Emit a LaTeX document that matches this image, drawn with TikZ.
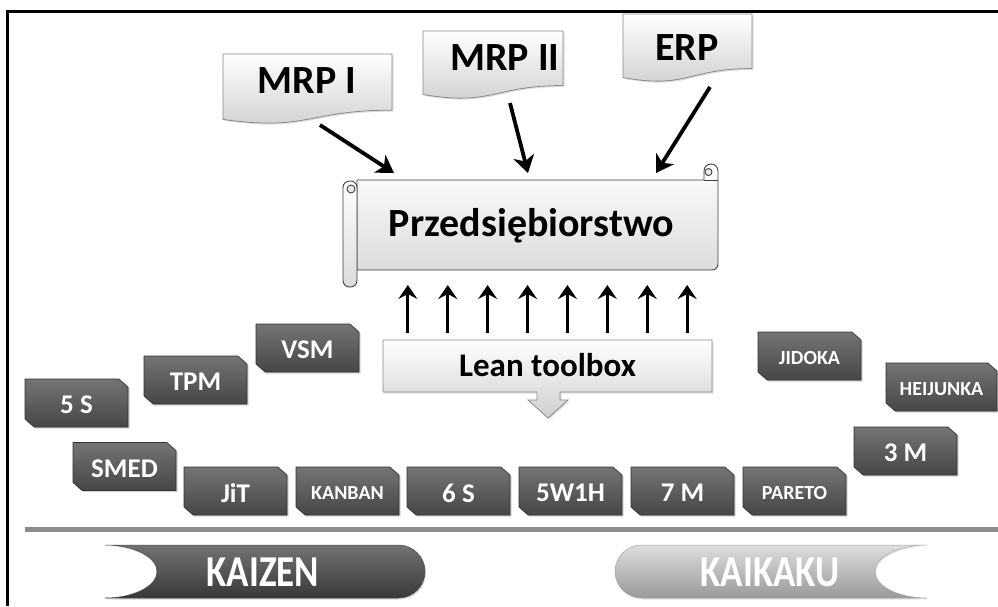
\documentclass[tikz,border=0pt]{standalone}
\usepackage{fontspec}
\usepackage{graphicx}
\setmainfont{Carlito}
\usetikzlibrary{shadows,calc,arrows.meta}
\definecolor{tooltop}{HTML}{747474}
\definecolor{toolbot}{HTML}{464646}
\definecolor{docbot}{HTML}{CFCFCF}
\definecolor{docline}{HTML}{8A8A8A}
\newcommand{\mydoc}[4]{\path[docshape] (#1,#3) -- (#2,#3) -- (#2,{#3+0.802*#4}) .. controls ({(#1+#2)/2},{#3+0.802*#4}) and ({(#1+#2)/2},{#3+1.107*#4}) .. (#1,{#3+0.934*#4}) -- cycle;}
% name, cx, cy, width, node style, text
\newcommand{\toolbox}[6]{%
  \path[toolfill] ({#2-#4/2},{#3-24}) -- ({#2+#4/2-9},{#3-24}) -- ({#2+#4/2},{#3-16}) -- ({#2+#4/2},{#3+24}) -- ({#2-#4/2+9},{#3+24}) -- ({#2-#4/2},{#3+16}) -- cycle;
  \node[#5] (#1) at (#2,{#3+2}) {#6};}
\begin{document}
\begin{tikzpicture}[x=1pt,y=-1pt,
  toolfill/.style={top color=tooltop, bottom color=toolbot, draw=toolbot!70!black, line width=0.6pt,
    drop shadow={shadow xshift=1.5pt, shadow yshift=-1.5pt, opacity=0.35}},
  tool/.style={inner sep=0pt, text=white, font=\bfseries\fontsize{27}{29}\selectfont},
  smalltool/.style={tool, font=\bfseries\fontsize{20}{22}\selectfont},
  docshape/.style={top color=white, bottom color=docbot, draw=docline, line width=0.8pt,
    drop shadow={shadow xshift=1.5pt, shadow yshift=-1.5pt, opacity=0.25}},
  doctext/.style={font=\bfseries\fontsize{40}{44}\selectfont, text=black, inner sep=0pt},
  scrollfill/.style={top color=white, bottom color=black!14, draw=black!75, line width=0.9pt},
  bigarr/.style={line width=3.8pt, -{Stealth[length=17pt,width=21pt,inset=5pt]}},
  uparr/.style={line width=3pt, -{Stealth[length=14pt,width=19pt,inset=5pt]}},
  pill/.style={font=\bfseries\fontsize{42}{44}\selectfont, text=white, inner sep=0pt}
]
\useasboundingbox (0,0) rectangle (998,606);
\fill[white] (0,0) rectangle (998,606);
% frame
\draw[line width=2.6pt] (7.5,606) -- (7.5,11.5) -- (998,11.5);

% document shapes
\mydoc{223}{392}{54}{70}
\node[doctext, anchor=base] (mrp1) at (307,93) {MRP I};
\mydoc{423}{563}{31}{68}
\node[doctext, anchor=base] (mrp2) at (505,70) {MRP II};
\mydoc{623}{752}{14}{68}
\node[doctext, anchor=base] (erp) at (687,60) {ERP};

% scroll
\path[scrollfill] (357,180) -- (704,180) -- (704,171) .. controls (704,167) and (707,164) .. (711,164) .. controls (715,164) and (718,167) .. (718,171) -- (718,264) .. controls (718,267.5) and (715.5,270) .. (712,270) -- (357,270) -- cycle;
\draw[black!75, line width=0.9pt, fill=black!8] (708.5,172) circle (3.5);
\draw[black!75, line width=0.9pt] (704,180) -- (718,180);
\path[scrollfill, rounded corners=6.5pt] (343,181) rectangle (357,287);
\draw[black!75, line width=0.9pt, fill=black!8] (351,189) circle (4);
\node[minimum width=361pt, minimum height=90pt, inner sep=0pt] (scroll) at (537.5,225) {};
\node[font=\bfseries\fontsize{40}{44}\selectfont, anchor=base, inner sep=0pt] (scrolltext) at (531.5,236) {Przedsiębiorstwo};

% arrows into scroll
\coordinate (m1out) at (320,125);
\coordinate (m1in) at (394,173);
\coordinate (m2out) at (510,103);
\coordinate (m2in) at (528,173);
\coordinate (m3out) at (710,87);
\coordinate (m3in) at (656,173);
\draw[bigarr] (m1out) -- (m1in);
\draw[bigarr] (m2out) -- (m2in);
\draw[bigarr] (m3out) -- (m3in);

% lean toolbox
\path[docshape] (383,340) -- (712,340) -- (712,392) -- (560,392) -- (560,400) -- (568,400) -- (548,418) -- (528,400) -- (537,400) -- (537,392) -- (383,392) -- cycle;
\node[minimum width=329pt, minimum height=52pt, inner sep=0pt] (lean) at (547.5,366) {};
\node[font=\bfseries\fontsize{33}{36}\selectfont, anchor=base, inner sep=0pt] (leantext) at (547.5,376) {Lean toolbox};
\coordinate (upend) at (547.5,285);
\foreach \i in {0,...,7}
  \draw[uparr] ($(lean.north)+({(\i-3.5)*39.9},-7)$) -- ($(upend)+({(\i-3.5)*39.9},0)$);

% tool boxes
\toolbox{t5s}{76.5}{403}{103}{tool}{5 S}
\toolbox{tpm}{195.5}{380}{103}{tool}{TPM}
\toolbox{vsm}{307.5}{348}{103}{tool}{VSM}
\toolbox{smed}{124.5}{466.5}{103}{tool}{SMED}
\toolbox{jit}{235.5}{491}{103}{tool}{JiT}
\toolbox{kanban}{347.5}{491}{103}{smalltool}{KANBAN}
\toolbox{t6s}{458.5}{491}{103}{tool}{6 S}
\toolbox{w1h}{570.5}{491}{103}{tool}{5W1H}
\toolbox{t7m}{682.5}{491}{103}{tool}{7 M}
\toolbox{pareto}{794.5}{491}{103}{smalltool}{PARETO}
\toolbox{t3m}{905.5}{451}{103}{tool}{3 M}
\toolbox{jidoka}{809.5}{356}{103}{smalltool}{JIDOKA}
\toolbox{heijunka}{941.5}{387}{111}{smalltool}{HEIJUNKA}

% divider
\coordinate (divl) at (25,529);
\coordinate (divr) at (998,529);
\draw[line width=5pt, black!45] (divl) -- (divr);

% kaizen / kaikaku
\path[top color=black!55, bottom color=black!78, draw=black!70, line width=0.5pt,
  drop shadow={shadow xshift=1pt, shadow yshift=-1.5pt, opacity=0.3}]
  (105,545) -- (398.5,545) .. controls (413.1,545) and (425,556.9) .. (425,571.5) .. controls (425,586.1) and (413.1,598) .. (398.5,598) -- (105,598) .. controls (133.7,598) and (157,586.1) .. (157,571.5) .. controls (157,556.9) and (133.7,545) .. (105,545) -- cycle;
\node[pill] (kaizen) at (263,572) {\scalebox{0.88}[1.05]{KAIZEN}};
\path[top color=black!13, bottom color=black!40, draw=black!35, line width=0.5pt,
  drop shadow={shadow xshift=1pt, shadow yshift=-1.5pt, opacity=0.2}]
  (641.5,545) -- (927,545) .. controls (898.3,545) and (875,556.9) .. (875,571.5) .. controls (875,586.1) and (898.3,598) .. (927,598) -- (641.5,598) .. controls (626.9,598) and (615,586.1) .. (615,571.5) .. controls (615,556.9) and (626.9,545) .. (641.5,545) -- cycle;
\node[pill] (kaikaku) at (770,572) {\scalebox{0.88}[1.05]{KAIKAKU}};
\end{tikzpicture}
\end{document}
